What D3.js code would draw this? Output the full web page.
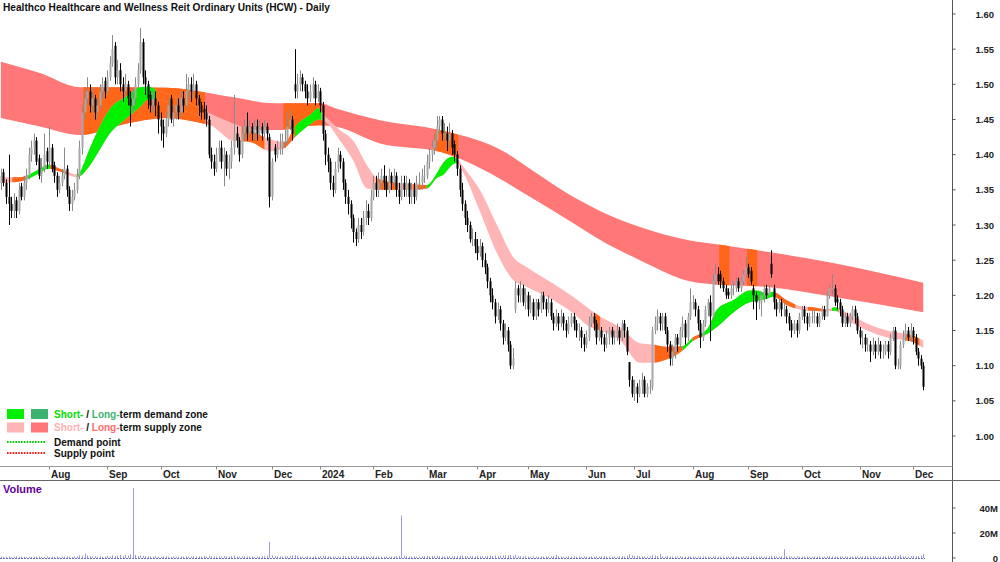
<!DOCTYPE html>
<html>
<head>
<meta charset="utf-8">
<script src="https://cdn.jsdelivr.net/npm/d3@7"></script>
<style>
  body { margin: 0; background: #fff; }
  svg { display: block; font-family: "Liberation Sans", Arial, sans-serif; }
</style>
</head>
<body>
<svg id="chart" width="1000" height="562"></svg>
<script>
const title = 'Healthco Healthcare and Wellness Reit Ordinary Units (HCW) - Daily';

// daily bars, prices in cents, one entry per trading day (5 Jul 2023 .. 6 Dec 2024)
const opens = [
  136,137.5,136,134,133,132,133.5,132,135.5,134, 136,137,140,141,142,139.5,137,138,140.5,139,
  141,138.5,137,135,136,137,138,135,133,134, 135,137,141,146,148,149,147,148,146,147,
  149,150.5,149,151,153,155.5,151,152,150,149, 150,148,147,148,150,152,156,151,150,148.5,
  147,148,147,145,144,143,145,148,145,146, 147,146,148,147,149,150,149,150,148,147,
  146.5,146,145,140,139,138,140,141,139,140, 138,139,141,143,142,140,143,144,143,144,
  143,144,143,144,143,144,142.5,134,141,140, 141,141,142,142,144,145,150,149,150,151,
  150,149,148,149,150,148,149,147,143,140, 139,136,135,138,140,139,136,134,133,131,
  129,128,130,129,131,132,131,134,136,135, 136,137,136,135,137,136,137,135,134,136,
  135,136,134,135,134,136,136,137,137,139, 140,141,142,144,145,143,143,142,143,141.5,
  140,138,135,133,131,130,128,128,127,126, 127,125,124,122,120,119,117,118,116,114,
  115,113,110,118,121,120,121,119,120,118, 119,117,119,118,120,119,118,119,117,116,
  117,116,117,116,115,116,117,116,115,115, 114,113,114,116,117,116,114,115,114,113,
  114,115,114,114,115,114,116,115,110.5,108, 106,107,106,107,108,106,107,107,115,116,
  117,116,117,115,113,111,112,114,113,115, 116,114,117,119,119,118,116,114,116,118,
  119,117,122,123,123,122,121,120.5,120,121, 121,122,121,122,123,124,123.5,121,120,119,
  119,120,121,120,124.5,121,119,118,119,118, 118,117,116,115,116,115,117,118,117,116,
  117,117,117,116,117,118,117,120,121,121, 119.5,119,118,116,117,116,117,118,117,115,
  114,114,113,113,112,113,112,113,112,112, 113,112,114,115,110,110,113,114,115,114,
  115,114,112,111,110
];
const highs = [
  138,138,136.5,140,134,134.5,134,136,136,137, 138,141,142,143,142.5,140,139.5,143,141,144,
  141.5,139,137.5,137,138,141,138.5,135.5,135,136, 138,142,147,149,151,150,149.5,148.5,148,150,
  151,151,152,154,157,156,153.5,153,151,151.5, 150.5,149,149.5,151,153,158,156.5,152,150.5,149,
  149,149,147.5,146,145,146,148,148.5,147,148, 148,149,149,151.5,151,151,151.5,150.5,148.5,147.5,
  147.5,147,145.5,141,140,141,142,142,141,140.5, 140,142,148.5,144,142.5,144,145,146,145,144.5,
  145,145,145,144.5,145,144.5,143,139.5,141.5,142, 143,143,143.5,146,146.5,145.5,155,151.5,152,151.5,
  150.5,150,150,151,150.5,150,149.5,147.5,143.5,141, 139.5,137,139,141,140.5,139.5,136.5,135,133.5,131.5,
  129.5,131,131,132,133.5,133,135,137,137,137.5, 138,138.5,137,138,137.5,138,137.5,136,137,137,
  137,136.5,136,136,137,137.5,138,138.5,140,141, 142,143,145.5,145.5,145.5,144.5,144,144.5,143.5,142,
  140.5,138.5,136,133.5,132,130.5,129.5,129,128,128, 127.5,126,124.5,122.5,121,119.5,119,118.5,116.5,116,
  115.5,113.5,112.5,122,121.5,122,121.5,121,120.5,120, 119.5,119.5,119.5,120.5,120.5,119.5,120,119.5,117.5,118,
  117.5,118,117.5,116.5,117,117.5,117.5,116.5,116,115.5, 114.5,115,117,117.5,117.5,116.5,116,115.5,114.5,115,
  115.5,115.5,115,116,115.5,116.5,116.5,115.5,110.5,108.5, 108,107.5,108,109,108.5,107.5,108,115.5,117,118,
  117.5,117.5,117.5,115.5,113.5,113,114.5,114.5,115.5,117, 116.5,117.5,121,120,119.5,118.5,116.5,116.5,118.5,119.5,
  120,123,124.5,124,123.5,122.5,121.5,121,121.5,122, 122.5,122.5,122.5,123.5,125.5,124.5,124,121.5,120.5,120,
  120.5,121.5,121.5,121.5,126.4,121.5,119.5,119.5,119.5,119, 118.5,117.5,116.5,116.5,116.5,117.5,118.5,118.5,117.5,117.5,
  118,118,117.5,117.5,118.5,118.5,120.5,121.5,123,121.5, 120,119.5,118.5,117.5,117.5,117.5,118.5,118.5,117.5,115.5,
  115,114.5,114,113.5,114,113.5,114,113.5,113,113.5, 113.5,114.5,115.5,115.5,111,113.5,115,116,115.5,116,
  115.5,114.5,112.5,111.5,110.5
];
const lows = [
  135,135.5,133,130,131,131,131,131.5,133.5,133.5, 135,136.5,139,140,138.5,136.5,136,137.5,138,138.5,
  137.5,136,134,134.5,135.5,136.5,134,132,132,133.5, 134.5,136.5,140,145,147,146,146,145,145,146.5,
  148,148,148.5,150.5,152.5,150,150,149,147.5,148, 147,144,146,147,149.5,151.5,150,148.5,146.5,146,
  146,145.5,143,142,141,142.5,144,144.5,144,145, 145,145.5,146,146.5,148,147.5,148,147,145.5,145,
  145,144,139.5,138,137,137.5,139,138,135.5,137, 136.5,138,140,141,139,139.5,142,142,142.5,142,
  142,142,142.5,142,142.5,142,132.5,133.5,139,139.5, 140,140,141,141.5,143.5,142,148,148,149,149,
  148,147,147.5,148,147,147.5,146,142,138.5,137.5, 135,134,134.5,137.5,138,135,133,131.5,129.5,127.5,
  127,127.5,128,128.5,130,130,130.5,133.5,134,134, 135,135,134,134.5,135,135.5,134,133,133.5,134,
  134,133,133,133,133.5,135,135,136,136.5,138, 139,140,141,143,142,142,140.5,141,140,139,
  137,134,132,130,129,127.5,127,126,125,125.5, 124,123,121,119,118,116,116.5,115,113,113.5,
  112,109.5,109.5,117.5,119,119,118.5,118,117,117.5, 116.5,116.5,117,117.5,118,117,117.5,116.5,115,115.5,
  115,115.5,115,114,114.5,115.5,115,114,113.5,112.5, 112,112.5,113.5,115.5,115,113,113.5,113,112,112.5,
  113,113,113,113.5,113,113.5,114,111.5,107,105.5, 105,104.7,105.5,106,105.5,105.5,106,106.5,114.5,115,
  115,115,114.5,112,110,110,111,112,112.5,114, 113,113.5,116.5,118,117,115,112.5,113.5,115.5,117,
  113.5,116.5,121.5,121.5,121,120.5,119.5,119.5,119.5,120, 120.5,120.5,120.5,121.5,122.5,122.5,121.5,118,116.5,118,
  117,119,119.5,120,122.5,118,117,117.5,117,117, 116,115,114,114.5,114,114.5,116.5,116,115,115.5,
  116,116,115.5,115.5,116.5,116.5,117,119.5,120,118.5, 118,117,115.5,115.5,115.5,115.5,116.5,116,114.5,113,
  112.5,112,112,110.5,111.5,111,111.5,111,111,111.5, 111,111.5,113.5,109.5,109.5,109.5,112.5,113.5,113.5,113.5,
  113,111.5,110,109.5,106.5
];
const closes = [
  137,136,134,133,132,133,132,135,134,136, 137,140,141,142,139,137,138,140,139,141,
  138,137,135,136,137,138,135,133,134,135, 137,141,146,148,149,147,148,146,147,149,
  150,149,151,153,155,151,152,150,149,150, 148,147,148,150,152,156,151,150,148,147,
  148,147,145,144,143,145,147,145,146,147, 146,148,147,149,150,149,150,148,147,146,
  146,145,140,139,138,140,141,139,140,138, 139,141,143,142,140,143,144,143,144,143,
  144,143,144,143,144,143,134,139,140,141, 141,142,142,144,145,143,149,150,151,150,
  149,148,149,150,148,149,147,143,140,139, 136,135,138,140,139,136,134,133,131,129,
  128,130,129,131,132,131,134,136,135,136, 137,136,135,137,136,137,135,134,136,135,
  136,134,135,134,136,136,137,137,139,140, 141,142,144,145,143,143,142,143,141,140,
  138,135,133,131,130,128,128,127,126,127, 125,124,122,120,119,117,118,116,114,115,
  113,110,111,121,120,121,119,120,118,119, 117,119,118,120,119,118,119,117,116,117,
  116,117,116,115,116,117,116,115,115,114, 113,114,116,117,116,114,115,114,113,114,
  115,114,114,115,114,116,115,112,108,106, 107,106,107,108,106,107,107,115,116,117,
  116,117,115,113,111,112,114,113,115,116, 114,117,119,119,118,116,114,116,118,119,
  117,122,123,122,122,121,120,120,121,121, 122,121,122,123,124,123,122,120,119,119,
  120,121,120,121,123,119,118,119,118,118, 117,116,115,116,115,117,118,117,116,117,
  117,117,116,117,118,117,120,121,121,119, 119,118,116,117,116,117,118,117,115,114,
  114,113,113,112,113,112,113,112,112,113, 112,114,115,110,110,113,114,115,114,115,
  114,112,111,110,107
];
// volume, millions of units
const volumes = [
  1.2,0.9,1.1,1.4,0.8,1.0,1.3,0.9,1.1,1.0, 0.8,1.2,1.0,0.9,1.3,1.1,0.8,1.0,1.2,0.9,
  1.1,1.0,1.3,0.9,1.2,1.0,1.4,1.1,0.9,1.2, 1.5,2.2,1.8,3.5,2.0,1.4,1.2,1.6,1.1,1.3,
  1.2,1.0,1.6,1.3,2.1,1.5,1.8,2.4,1.4,2.6, 1.9,3.0,56,2.5,1.6,2.0,1.8,1.5,1.3,1.2,
  1.1,1.4,1.3,1.0,1.2,1.5,1.1,0.9,1.3,1.0, 1.2,1.4,1.1,1.3,1.0,1.2,1.5,1.1,1.3,1.2,
  1.4,1.3,1.9,1.6,1.2,1.1,1.4,1.2,1.5,1.3, 1.2,1.6,1.9,1.3,1.2,1.4,1.5,1.1,1.3,1.2,
  1.1,1.3,1.2,1.5,1.4,2.0,13,2.2,1.6,1.4, 1.3,1.2,1.5,1.4,1.6,2.1,2.4,1.7,1.3,1.2,
  1.1,1.3,1.0,1.2,1.4,1.1,1.5,1.8,1.6,1.3, 1.4,1.2,1.1,1.3,1.0,1.5,1.2,1.4,1.6,1.3,
  1.7,1.2,1.1,1.4,1.3,1.0,1.2,1.5,1.1,1.3, 1.2,1.0,1.4,1.1,1.3,1.2,1.5,1.6,34,1.8,
  1.4,1.2,1.1,1.3,1.0,1.2,1.4,1.5,1.7,1.3, 1.6,1.4,1.8,1.5,1.3,1.2,1.4,1.6,1.3,1.5,
  1.7,1.9,2.0,1.6,1.4,1.8,1.5,1.3,1.6,1.4, 1.5,1.3,1.7,1.9,1.6,2.0,1.5,1.8,2.1,1.9,
  2.2,2.4,1.8,2.6,1.7,1.5,1.3,1.4,1.2,1.1, 1.3,1.2,1.0,1.4,1.1,1.3,1.2,1.5,1.6,2.5,
  1.3,1.1,1.0,1.2,1.4,1.1,1.3,1.0,1.2,1.1, 1.4,1.2,1.1,1.3,1.0,1.5,1.2,1.4,1.3,1.1,
  1.2,1.0,1.3,1.1,1.4,1.6,1.2,1.8,3.0,2.0, 1.6,1.8,1.4,1.3,1.5,1.2,1.4,2.2,1.9,1.6,
  3.0,1.5,1.3,1.4,1.2,1.1,1.3,1.2,1.4,1.0, 1.1,1.3,1.5,1.2,1.0,1.1,1.3,1.2,1.4,1.1,
  1.0,1.4,1.3,1.2,1.1,1.3,1.0,1.2,1.1,1.3, 1.2,1.0,1.1,1.3,1.4,1.2,1.1,1.5,1.3,1.2,
  1.4,1.1,1.2,1.3,1.8,1.6,1.3,1.2,1.5,7.0, 1.6,1.3,1.2,1.1,1.4,1.0,1.2,1.3,1.1,1.2,
  1.0,1.1,1.3,1.2,1.0,1.1,1.4,1.5,1.3,1.2, 1.1,1.3,1.2,1.4,1.0,1.1,1.2,1.3,1.4,1.2,
  1.3,1.5,1.2,1.4,1.6,1.3,1.2,1.1,1.4,1.3, 1.5,1.2,1.4,2.0,1.6,2.5,1.3,1.4,1.2,1.5,
  1.7,1.4,1.6,1.9,3.0
];

// month axis: label and index of first trading day of that month
const monthLabels = ['Aug','Sep','Oct','Nov','Dec','2024','Feb','Mar','Apr','May','Jun','Jul','Aug','Sep','Oct','Nov','Dec'];
const monthStart  = [19,42,63,85,107,126,147,168,188,208,231,250,273,295,316,339,360];
const priceTicks  = [100,105,110,115,120,125,130,135,140,145,150,155,160];
const volumeTicks = [0,20,40];

// long-term zone (cents), read at these day indices
const ltIdx   = [0,15.4,31.2,47,65.5,91.2,108.2,125.9,131.9,149.6,173.3,199.7,208.8,225.8,236.4,252.2,271.9,283.8,302.3,328.4,364];
const ltUpper = [153.2,151.6,149.6,149.6,149.5,148.2,147.3,147.3,146.6,144.9,143.5,140.2,138,134,132,129.7,127.8,127.2,126.2,124.6,121.8];
const ltLower = [145.2,144,142.8,144.2,145.2,143.7,143.5,144.2,144,141.6,140.4,136,134,130.3,127.9,125,122,121.5,121.2,119.8,117.6];

// short-term zone (cents)
const stIdx = [0,7.5,15.4,18.6,23.3,30,35.2,39,43,49,55,58,62.8,70.7,80.5,86.5,91.2,98.3,106.2,112.1,116.1,122.8,125.1,127.9,
  133.8,139,144.5,148.4,156.3,162.6,168.2,172.1,174.5,178,180,182.4,189,195.8,202.1,207.6,215.5,225.8,232.5,236.4,244.3,252.2,
  257.3,262.1,269.2,273.1,278.7,282.6,288.9,295.6,298.4,302.3,304.7,310.2,315.3,320.5,326,329.2,334,341.8,349.7,359.6,364];
const stUpper = [136.8,136.8,138,138.6,138,137.2,141,144,146.5,148.2,149.6,149.7,149,148,146.2,145.2,144.5,143.5,142.2,141.8,144,145.9,146.6,145.5,
  143.5,142,138.5,136.7,136,135.8,135.7,137.4,138.8,139.7,139.5,138.3,135,130,125.5,124,122.2,119.8,118,117,115.5,113.2,
  113,112.7,112.8,114,115.2,118,119.3,120.7,120.7,120.3,120.5,119.3,118.5,118.3,118,118.3,117.5,116,115,114.3,113.6];
const stLower = [136,136.2,137.4,138,137.6,136.8,138.5,140.7,143,145,146.8,147.8,147.8,146.5,145,143.2,142,141.8,140.5,141,142.5,144.5,145,144.7,
  142,139.2,135.2,135,135,135,135.2,136.7,137.1,138.5,138.8,137.5,132,126,122.2,121.2,119.8,117.5,115.5,115,113.6,110.4,
  110.4,110.8,112.2,113.5,114.5,115.5,117.5,119,119.2,119.5,119.8,118.6,118,117.8,117.7,117.8,116.5,115,114,113.4,112.5];

// zone colouring by day ranges
const ltOrange = [[32.5,80.5],[111.5,127.5],[171.5,180.5],[283.5,287.5],[294.5,298.5]];
const stGreen  = [[10.5,19.5],[30,61],[116,126.5],[168,180],[269,273],[276,305.5],[328,330.5]];
const stOrange = [[4.5,10.5],[19.5,26.5],[61,80.5],[95,104],[111,116],[148.5,156.5],[162.5,168],[234.5,236.5],
  [258,269],[273,276],[305.5,313.5],[318.5,325],[357,362.5]];

const svg = d3.select('#chart');
const axisX = 952.5;
const colors = { ltSupply: '#ff7777', stSupply: '#ffb5b5', demand: '#00f000', ltDemand: '#3cb371', inZone: '#ff6618' };

const x  = d3.scaleLinear().domain([0, 364]).range([0.9, 923.2]);
const y  = d3.scaleLinear().domain([100, 160]).range([436, 14]);
const yv = d3.scaleLinear().domain([0, 40]).range([558, 508]);

svg.append('rect').attr('width', 1000).attr('height', 562).attr('fill', '#fff');

const defs = svg.append('defs');
function rangeClip(id, ranges) {
    defs.append('clipPath').attr('id', id)
        .selectAll('rect').data(ranges).join('rect')
        .attr('x', d => x(d[0])).attr('width', d => x(d[1]) - x(d[0]))
        .attr('y', 0).attr('height', 466);
}
rangeClip('ltO', ltOrange);
rangeClip('stG', stGreen);
rangeClip('stO', stOrange);

const zoneArea = (idx, up, lo) => d3.area()
    .x((d, i) => x(idx[i]))
    .y0((d, i) => y(lo[i]))
    .y1((d, i) => y(up[i]))
    .curve(d3.curveMonotoneX)(idx);

const plot = svg.append('g');
const ltPath = zoneArea(ltIdx, ltUpper, ltLower);
const stPath = zoneArea(stIdx, stUpper, stLower);
plot.append('path').attr('d', ltPath).attr('fill', colors.ltSupply);
plot.append('path').attr('d', ltPath).attr('fill', colors.inZone).attr('clip-path', 'url(#ltO)');
plot.append('path').attr('d', stPath).attr('fill', colors.stSupply);
plot.append('path').attr('d', stPath).attr('fill', colors.demand).attr('clip-path', 'url(#stG)');
plot.append('path').attr('d', stPath).attr('fill', colors.inZone).attr('clip-path', 'url(#stO)');

// candles
const days = d3.range(closes.length);
const isUp = i => closes[i] >= opens[i];
plot.selectAll('line.wick').data(days).join('line')
    .attr('class', 'wick')
    .attr('x1', i => Math.round(x(i)) + 0.5).attr('x2', i => Math.round(x(i)) + 0.5)
    .attr('y1', i => y(highs[i])).attr('y2', i => y(lows[i]))
    .attr('stroke', i => isUp(i) ? '#8a8a8a' : '#000')
    .attr('stroke-width', 1);
plot.selectAll('rect.body').data(days).join('rect')
    .attr('class', 'body')
    .attr('x', i => Math.round(x(i)) - 0.5)
    .attr('width', 2)
    .attr('y', i => y(Math.max(opens[i], closes[i])))
    .attr('height', i => Math.max(1, Math.abs(y(opens[i]) - y(closes[i]))))
    .attr('fill', i => isUp(i) ? '#a8a8a8' : '#000');

// title
svg.append('text').attr('x', 3).attr('y', 11)
    .attr('font-size', 11).attr('font-weight', 'bold').attr('fill', '#111')
    .attr('textLength', 327).attr('lengthAdjust', 'spacingAndGlyphs')
    .text(title);

// right axis and frame lines
svg.append('line').attr('x1', axisX).attr('x2', axisX).attr('y1', 0).attr('y2', 562).attr('stroke', '#555');
svg.append('line').attr('x1', 0).attr('x2', axisX).attr('y1', 466.5).attr('y2', 466.5).attr('stroke', '#999');
svg.append('line').attr('x1', 0).attr('x2', 1000).attr('y1', 480.5).attr('y2', 480.5).attr('stroke', '#666');

const pt = svg.append('g').selectAll('g').data(priceTicks).join('g')
    .attr('transform', d => `translate(0,${y(d)})`);
pt.append('line').attr('x1', axisX).attr('x2', axisX + 3).attr('stroke', '#555');
pt.append('text').attr('x', 994).attr('y', 3.5).attr('text-anchor', 'end')
    .attr('font-size', 9.5).attr('font-weight', 'bold').attr('fill', '#222')
    .text(d => d3.format('.2f')(d / 100));

// month strip
const mt = svg.append('g').selectAll('g').data(monthStart).join('g')
    .attr('transform', d => `translate(${Math.round(x(d)) + 0.5},0)`);
mt.append('line').attr('y1', 466).attr('y2', 469.5).attr('stroke', '#888');
mt.append('text').attr('x', 1.5).attr('y', 477.5)
    .attr('font-size', 10).attr('font-weight', 'bold').attr('fill', '#222')
    .text((d, i) => monthLabels[i]);

// volume panel
svg.append('text').attr('x', 3).attr('y', 493)
    .attr('font-size', 11).attr('font-weight', 'bold').attr('fill', '#660099')
    .text('Volume');
svg.append('g').selectAll('line').data(days).join('line')
    .attr('x1', i => Math.round(x(i)) + 0.5).attr('x2', i => Math.round(x(i)) + 0.5)
    .attr('y1', yv(0)).attr('y2', i => yv(volumes[i]))
    .attr('stroke', '#9a9adc').attr('stroke-width', 1);
svg.append('line').attr('x1', 0).attr('x2', 925).attr('y1', yv(0) + 0.5).attr('y2', yv(0) + 0.5)
    .attr('stroke', '#6c6cc4').attr('stroke-dasharray', '2,1');
const vt = svg.append('g').selectAll('g').data(volumeTicks).join('g')
    .attr('transform', d => `translate(0,${yv(d)})`);
vt.append('line').attr('x1', axisX).attr('x2', axisX + 3).attr('stroke', '#555');
vt.append('text').attr('x', 998).attr('y', 3.5).attr('text-anchor', 'end')
    .attr('font-size', 9.5).attr('font-weight', 'bold').attr('fill', '#222')
    .text(d => d === 0 ? '0' : d + 'M');

// legend
const legendZones = [
    { swatches: [colors.demand, colors.ltDemand], parts: [['Short-', '#00dd00'], [' / ', '#111'], ['Long-', colors.ltDemand], ['term demand zone', '#111']] },
    { swatches: [colors.stSupply, colors.ltSupply], parts: [['Short-', '#ffb0b0'], [' / ', '#111'], ['Long-', '#ff6a6a'], ['term supply zone', '#111']] }
];
const legendPoints = [
    { color: '#00cc00', label: 'Demand point' },
    { color: '#ff1a1a', label: 'Supply point' }
];
const lg = svg.append('g').attr('font-size', 10).attr('font-weight', 'bold');
legendZones.forEach((z, r) => {
    const top = 409 + r * 13.5;
    z.swatches.forEach((c, k) => {
        lg.append('rect').attr('x', 7 + k * 24).attr('y', top).attr('width', 17).attr('height', 10).attr('fill', c);
    });
    // each coloured word is its own text, placed after the previous one
    let cx = 54;
    z.parts.forEach(p => {
        const t = lg.append('text').attr('x', cx).attr('y', top + 8.5)
            .attr('fill', p[1]).attr('xml:space', 'preserve').style('white-space', 'pre')
            .text(p[0]);
        cx += t.node().getComputedTextLength();
    });
});
legendPoints.forEach((p, r) => {
    const yy = 442 + r * 11;
    lg.append('line').attr('x1', 7).attr('x2', 45).attr('y1', yy).attr('y2', yy)
        .attr('stroke', p.color).attr('stroke-width', 2).attr('stroke-dasharray', '1.6,1.2');
    lg.append('text').attr('x', 54).attr('y', yy + 4).attr('fill', '#111').text(p.label);
});
</script>
</body>
</html>
